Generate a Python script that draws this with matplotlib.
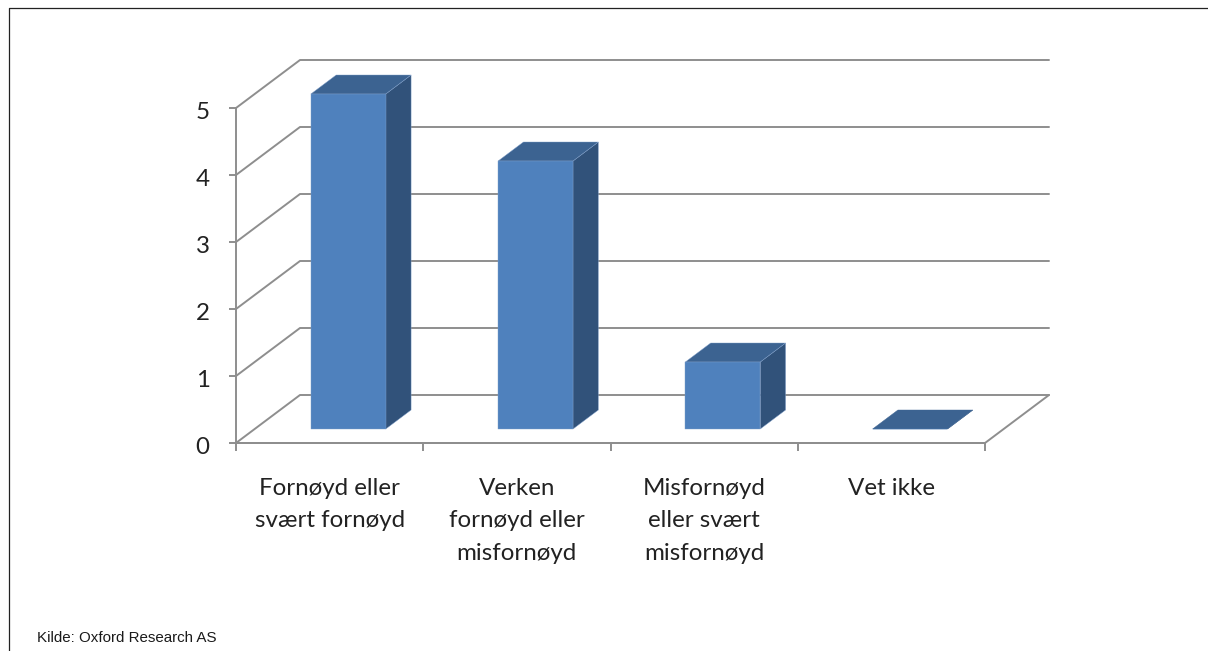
import matplotlib
matplotlib.use("Agg")
import matplotlib.pyplot as plt
from matplotlib.lines import Line2D
from matplotlib.patches import Polygon
from matplotlib.transforms import ScaledTranslation

categories = ["Fornøyd eller\nsvært fornøyd", "Verken\nfornøyd eller\nmisfornøyd",
              "Misfornøyd\neller svært\nmisfornøyd", "Vet ikke"]
values = [5, 4, 1, 0]
y_ticks = [0, 1, 2, 3, 4, 5]

W, H = 1208, 651
GRID = "#8e8e8e"
FRONT = "#4f81bd"
SIDE = "#31527a"
TOP = "#3c6391"
TEXT = "#222222"

# depth of the fake 3d box, in data units
DX = 64 / 187.25
DY = 48 / 67


def proj(x, y, z):
    return x + z * DX, y + z * DY


def line3d(ax, points):
    xs, ys = zip(*[proj(*p) for p in points])
    ax.plot(xs, ys, color=GRID, lw=1.4, clip_on=False, zorder=1, solid_capstyle="round")


def bar3d(ax, i, value, width=0.4, z0=14 / 48, z1=33 / 48):
    x0 = i + 0.5 - width / 2
    x1 = i + 0.5 + width / 2
    top = [(x0, value, z0), (x1, value, z0), (x1, value, z1), (x0, value, z1)]
    side = [(x1, 0, z0), (x1, 0, z1), (x1, value, z1), (x1, value, z0)]
    front = [(x0, 0, z0), (x1, 0, z0), (x1, value, z0), (x0, value, z0)]
    for face, color in [(side, SIDE), (top, TOP), (front, FRONT)]:
        edge = "#7f9fca" if value > 0 else color
        ax.add_patch(Polygon([proj(*p) for p in face], closed=True, facecolor=color,
                             edgecolor=edge, lw=0.3, clip_on=False, zorder=3))


fig = plt.figure(figsize=(W / 100, H / 100), dpi=100)
ax = fig.add_axes([236 / W, (H - 443) / H, 749 / W, 335 / H])
ax.set_xlim(0, len(categories))
ax.set_ylim(0, max(y_ticks))
ax.patch.set_visible(False)

# back wall and side wall grid
for v in y_ticks:
    line3d(ax, [(0, v, 0), (0, v, 1), (len(categories), v, 1)])
line3d(ax, [(0, 0, 0), (len(categories), 0, 0), (len(categories), 0, 1)])

for i, v in enumerate(values):
    bar3d(ax, i, v)

for name in ["top", "right"]:
    ax.spines[name].set_visible(False)
for name in ["left", "bottom"]:
    ax.spines[name].set_color(GRID)
    ax.spines[name].set_linewidth(1.4)

ax.set_yticks(y_ticks)
ax.set_xticks(range(len(categories) + 1))
ax.set_xticklabels([])
ax.set_xticks([i + 0.5 for i in range(len(categories))], minor=True)
ax.set_xticklabels(categories, minor=True, family="Lato", fontsize=17.4, color=TEXT,
                   linespacing=1.68, va="top")
ax.tick_params(axis="x", which="minor", length=0, pad=25)
ax.tick_params(axis="x", which="major", length=6, width=1.4, color=GRID)
ax.tick_params(axis="y", length=5, width=1.4, color=GRID, pad=14)
shift = ScaledTranslation(0, -1.5 / 72, fig.dpi_scale_trans)
for lab in ax.get_yticklabels():
    lab.set_family("Lato")
    lab.set_fontsize(17.4)
    lab.set_color(TEXT)
    lab.set_transform(lab.get_transform() + shift)

# frame around the figure, open at right and bottom
fig.add_artist(Line2D([8.5 / W, 8.5 / W, 1], [0, 1 - 7.5 / H, 1 - 7.5 / H],
                      color="#222222", lw=0.9, transform=fig.transFigure))
fig.text(37 / W, 1 - 638.5 / H, "Kilde: Oxford Research AS", family="Liberation Sans",
         fontsize=10.9, color="#1a1a1a", va="center", ha="left")

fig.savefig("out.png", dpi=100)
